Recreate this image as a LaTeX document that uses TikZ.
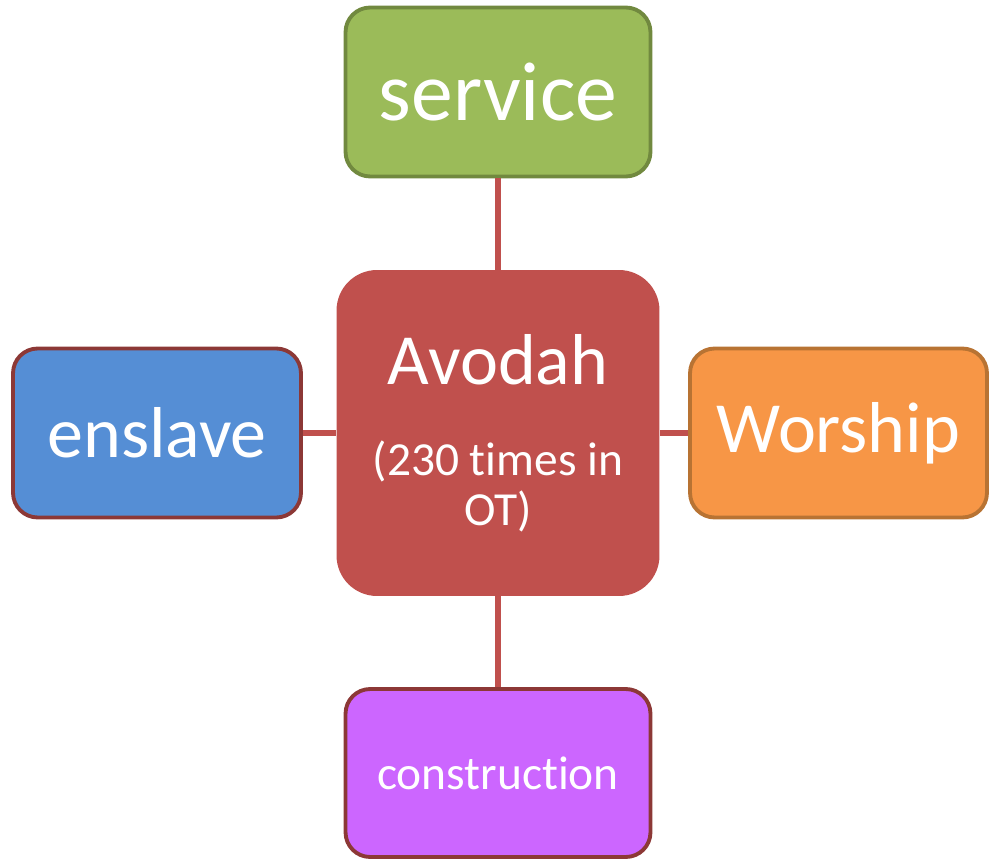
\documentclass[tikz,border=0pt]{standalone}
\usepackage{fontspec}
\setmainfont[Ligatures=NoCommon]{Carlito}
\usetikzlibrary{positioning}
\definecolor{avodahred}{HTML}{C0504D}
\definecolor{servgreen}{HTML}{9BBB59}
\definecolor{servedge}{HTML}{71893F}
\definecolor{slaveblue}{HTML}{558ED5}
\definecolor{darkedge}{HTML}{8C3836}
\definecolor{worshorange}{HTML}{F79646}
\definecolor{worshedge}{HTML}{B87333}
\definecolor{buildviolet}{HTML}{CC66FF}
\tikzset{
	leaf/.style={draw, line width=2.2pt, rounded corners=14pt, text=white, align=center},
	link/.style={draw=avodahred, line width=3pt}
}

\begin{document}
\begin{tikzpicture}[x=0.02cm, y=-0.02cm]
		%%%%% START %%%%%
		\useasboundingbox (0, 0) rectangle (990, 861);
		
		\node[fill=avodahred, rounded corners=23pt, minimum width=6.46cm, minimum height=6.52cm,
		text=white, align=center, font=\fontsize{27}{28.4}\selectfont] (avodah) at (498, 433)
		{{\fontsize{41}{41}\selectfont Avodah}\\[23.6pt](230 times in\\OT)};
		
		\node[leaf, fill=servgreen, draw=servedge, minimum width=6.1cm, minimum height=3.38cm,
		font=\fontsize{47.6}{50}\selectfont] (service) at (498, 92) {service};
		\node[leaf, fill=slaveblue, draw=darkedge, minimum width=5.76cm, minimum height=3.38cm,
		font=\fontsize{41}{44}\selectfont] (enslave) at (157, 433) {enslave};
		\node[leaf, fill=worshorange, draw=worshedge, minimum width=5.94cm, minimum height=3.38cm,
		font=\fontsize{41}{44}\selectfont] (worship) at (838.5, 433) {Worship};
		\node[leaf, fill=buildviolet, draw=darkedge, minimum width=6.1cm, minimum height=3.36cm,
		font=\fontsize{27}{30}\selectfont] (build) at (498, 773) {construction};
		
		\draw[link] (service) -- (avodah);
		\draw[link] (avodah) -- (build);
		\draw[link] (enslave) -- (avodah);
		\draw[link] (avodah) -- (worship);
		%%%%% END %%%%%
\end{tikzpicture}
\end{document}
